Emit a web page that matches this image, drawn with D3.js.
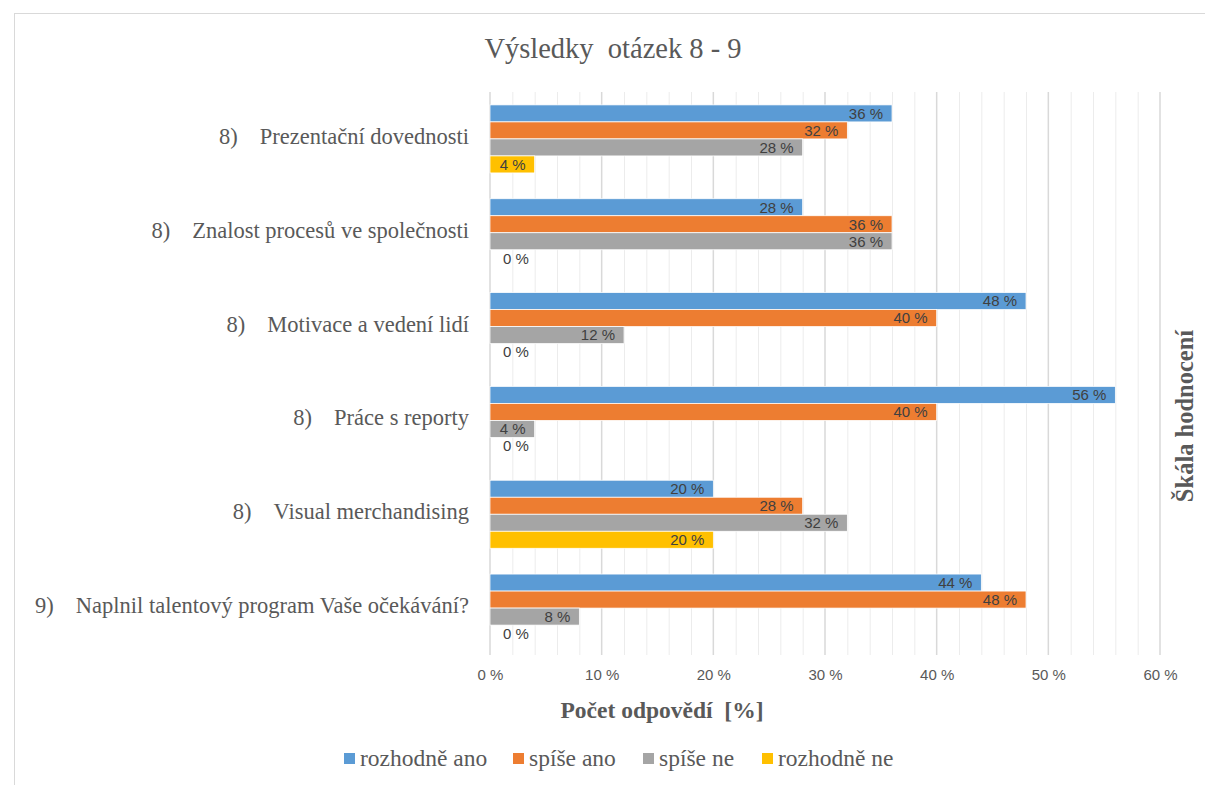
<!DOCTYPE html>
<html><head><meta charset="utf-8">
<script src="https://cdn.jsdelivr.net/npm/d3@7"></script>
<style>body{margin:0;background:#fff}svg{display:block}</style>
</head><body>
<svg id="c" width="1205" height="785"></svg>
<script>
const categoryNums = ["8)", "8)", "8)", "8)", "8)", "9)"];
const categories = ["Prezentační dovednosti", "Znalost procesů ve společnosti", "Motivace a vedení lidí", "Práce s reporty", "Visual merchandising", "Naplnil talentový program Vaše očekávání?"];
const seriesNames = ["rozhodně ano", "spíše ano", "spíše ne", "rozhodně ne"];
const seriesColors = ["#5B9BD5", "#ED7D31", "#A5A5A5", "#FFC000"];
const rozhodneAno = [36, 28, 48, 56, 20, 44];
const spiseAno = [32, 36, 40, 40, 28, 48];
const spiseNe = [28, 36, 12, 4, 32, 8];
const rozhodneNe = [4, 0, 0, 0, 20, 0];
const seriesValues = [rozhodneAno, spiseAno, spiseNe, rozhodneNe];
const xTicks = [0, 10, 20, 30, 40, 50, 60];

const svg = d3.select("#c");
const serif = "'Liberation Serif','Times New Roman',serif";
const sans = "'Liberation Sans',Arial,sans-serif";

// chart border
svg.append("rect").attr("x", 14.5).attr("y", 13.5).attr("width", 1200).attr("height", 790)
  .attr("fill", "none").attr("stroke", "#d9d9d9").attr("stroke-width", 1);

const pLeft = 490, pRight = 1160, pTop = 92, pBottom = 655;
const x = d3.scaleLinear().domain([0, 60]).range([pLeft, pRight]);
const y = d3.scaleBand().domain(d3.range(categories.length)).range([pTop, pBottom]).paddingInner(0.275).paddingOuter(0.1375);
const ys = d3.scaleBand().domain(d3.range(seriesNames.length)).range([0, y.bandwidth()]);

// gridlines
const minor = d3.range(0, 61, 2).filter(v => v % 10 !== 0);
svg.append("g").selectAll("line").data(minor).join("line")
  .attr("x1", d => x(d) + 0.5).attr("x2", d => x(d) + 0.5).attr("y1", pTop).attr("y2", pBottom)
  .attr("stroke", "#ececec").attr("stroke-width", 1);
svg.append("g").selectAll("line").data(xTicks).join("line")
  .attr("x1", d => x(d)).attr("x2", d => x(d)).attr("y1", pTop).attr("y2", pBottom)
  .attr("stroke", "#d9d9d9").attr("stroke-width", 1.5);

// x axis labels
const xAxis = d3.axisBottom(x).tickValues(xTicks).tickSize(0).tickPadding(0).tickFormat(d => d + " %");
const gx = svg.append("g").attr("transform", `translate(0,${pBottom + 14})`).call(xAxis);
gx.select(".domain").remove();
gx.selectAll("text").attr("font-family", sans).attr("font-size", 15).attr("fill", "#595959").attr("dy", "0.71em");

// bars
const groups = svg.append("g").selectAll("g").data(categories).join("g")
  .attr("transform", (d, i) => `translate(0,${y(i)})`);
groups.each(function(c, ci) {
  const g = d3.select(this);
  seriesValues.forEach((vals, si) => {
    const v = vals[ci];
    if (v > 0) {
      g.append("rect").attr("x", x(0)).attr("y", ys(si)).attr("width", x(v) - x(0)).attr("height", ys.bandwidth())
        .attr("fill", seriesColors[si]).attr("stroke", "#fff").attr("stroke-width", 0.75);
    }
    const t = g.append("text").attr("y", ys(si) + ys.bandwidth() / 2).attr("dy", "0.36em")
      .attr("font-family", sans).attr("font-size", 15).attr("fill", "#404040").text(v + " %");
    if (v > 0) t.attr("x", x(v) - 9).attr("text-anchor", "end");
    else t.attr("x", x(0) + 13).attr("text-anchor", "start");
  });
});

// category labels
svg.append("g").selectAll("text").data(categories).join("text")
  .attr("x", 469).attr("y", (d, i) => y(i) + y.bandwidth() / 2).attr("dy", "0.22em")
  .attr("text-anchor", "end").attr("font-family", serif).attr("font-size", 22.5).attr("fill", "#595959")
  .each(function(d, i) {
    const t = d3.select(this);
    t.append("tspan").text(categoryNums[i]);
    t.append("tspan").attr("dx", 22).text(d);
  });

// title
svg.append("text").attr("x", 613).attr("y", 58).attr("text-anchor", "middle")
  .attr("font-family", serif).attr("font-size", 28.5).attr("fill", "#595959")
  .attr("xml:space", "preserve").text("Výsledky  otázek 8 - 9");

// axis title
svg.append("text").attr("x", 662).attr("y", 718).attr("text-anchor", "middle")
  .attr("font-family", serif).attr("font-size", 23.5).attr("font-weight", "bold").attr("fill", "#595959")
  .attr("xml:space", "preserve").text("Počet odpovědí  [%]");

// right title
svg.append("text").attr("transform", "translate(1193,416) rotate(-90)").attr("text-anchor", "middle")
  .attr("font-family", serif).attr("font-size", 24.5).attr("font-weight", "bold").attr("fill", "#595959")
  .text("Škála hodnocení");

// legend
const legendX = [344, 513, 643, 762];
const lg = svg.append("g").selectAll("g").data(seriesNames).join("g")
  .attr("transform", (d, i) => `translate(${legendX[i]},759)`);
lg.append("rect").attr("x", 0).attr("y", -6).attr("width", 11).attr("height", 11).attr("fill", (d, i) => seriesColors[i]);
lg.append("text").attr("x", 16).attr("y", 7)
  .attr("font-family", serif).attr("font-size", 23.5).attr("fill", "#595959").text(d => d);
</script>
</body></html>
